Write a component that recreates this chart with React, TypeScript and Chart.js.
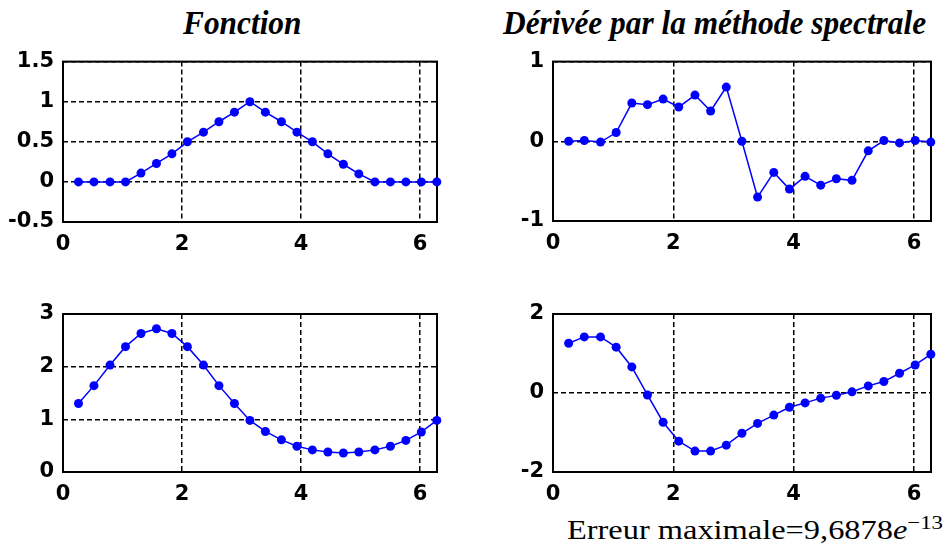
import React, { useEffect, useRef } from "react";
import { Chart, registerables } from "chart.js";

Chart.register(...registerables);

// ---- Data ----
const xValues = [0.26, 0.52, 0.79, 1.05, 1.31, 1.57, 1.83, 2.09, 2.36, 2.62, 2.88, 3.14, 3.40, 3.67, 3.93, 4.19, 4.45, 4.71, 4.97, 5.24, 5.50, 5.76, 6.02, 6.28];
const xTicks = [0, 2, 4, 6];
const xMax = 6.2832;

const fonction = [0, 0, 0, 0, 0.11, 0.23, 0.35, 0.5, 0.62, 0.75, 0.87, 1, 0.87, 0.75, 0.62, 0.5, 0.35, 0.22, 0.1, 0, 0, 0, 0, 0];
const fonctionTicks = [-0.5, 0, 0.5, 1, 1.5];

const deriveeSpectrale = [0, 0.01, -0.01, 0.11, 0.48, 0.46, 0.53, 0.43, 0.58, 0.38, 0.68, 0, -0.7, -0.39, -0.6, -0.44, -0.55, -0.47, -0.49, -0.12, 0.01, -0.02, 0.01, -0.01];
const deriveeSpectraleTicks = [-1, 0, 1];

const fonctionExp = [1.3, 1.64, 2.03, 2.38, 2.63, 2.72, 2.63, 2.38, 2.03, 1.64, 1.3, 0.98, 0.77, 0.61, 0.49, 0.42, 0.38, 0.36, 0.38, 0.42, 0.49, 0.6, 0.76, 0.98];
const fonctionExpTicks = [0, 1, 2, 3];

const deriveeExp = [1.26, 1.42, 1.42, 1.16, 0.66, -0.05, -0.74, -1.22, -1.47, -1.47, -1.32, -1.02, -0.77, -0.56, -0.36, -0.25, -0.13, -0.06, 0.03, 0.18, 0.29, 0.5, 0.71, 0.98];
const deriveeExpTicks = [-2, 0, 2];

const titleLeft = "Fonction";
const titleRight = "Dérivée par la méthode spectrale";
const captionText = "Erreur maximale=9,6878";

// ---- Chart helpers ----
const boxPlugin = {
  id: "boxPlugin",
  beforeDatasetsDraw(chart: any) {
    const { ctx, chartArea } = chart;
    ctx.save();
    ctx.strokeStyle = "#000";
    ctx.lineWidth = 2;
    ctx.setLineDash([]);
    ctx.strokeRect(chartArea.left, chartArea.top, chartArea.right - chartArea.left, chartArea.bottom - chartArea.top);
    ctx.restore();
  },
};

const tickFont = { family: "'DejaVu Sans', 'Liberation Sans', sans-serif", size: 21, weight: "bold" as const };

type PanelProps = {
  left: number;
  top: number;
  width: number;
  height: number;
  yAxisW: number;
  padTop: number;
  padRight: number;
  xAxisH: number;
  values: number[];
  yTicks: number[];
};

function Panel({ left, top, width, height, yAxisW, padTop, padRight, xAxisH, values, yTicks }: PanelProps) {
  const ref = useRef<HTMLCanvasElement>(null);
  useEffect(() => {
    const chart = new Chart(ref.current as HTMLCanvasElement, {
      type: "line",
      data: {
        datasets: [
          {
            data: xValues.map((x, i) => ({ x, y: values[i] })),
            borderColor: "#0000ff",
            backgroundColor: "#0000ff",
            borderWidth: 1.5,
            pointRadius: 4.5,
            pointBorderWidth: 0,
            pointBackgroundColor: "#0000ff",
            clip: false as any,
            tension: 0,
          },
        ],
      },
      options: {
        responsive: false,
        maintainAspectRatio: false,
        animation: false,
        layout: { padding: { left: 0, top: padTop, right: padRight, bottom: 0 } },
        plugins: { legend: { display: false }, tooltip: { enabled: false } },
        scales: {
          x: {
            type: "linear",
            min: 0,
            max: xMax,
            afterBuildTicks: (a: any) => {
              a.ticks = xTicks.map((v) => ({ value: v }));
            },
            afterFit: (a: any) => {
              a.height = xAxisH;
            },
            grid: { color: "#000", lineWidth: 1.5, drawTicks: false },
            border: { display: false, dash: [5, 3] },
            ticks: {
              padding: 10,
              color: "#000",
              font: tickFont,
              maxRotation: 0,
              autoSkip: false,
              callback: (v: any) => String(v),
            },
          },
          y: {
            type: "linear",
            min: yTicks[0],
            max: yTicks[yTicks.length - 1],
            afterBuildTicks: (a: any) => {
              a.ticks = yTicks.map((v) => ({ value: v }));
            },
            afterFit: (a: any) => {
              a.width = yAxisW;
            },
            grid: { color: "#000", lineWidth: 1.5, drawTicks: false },
            border: { display: false, dash: [5, 3] },
            ticks: {
              padding: 9,
              color: "#000",
              font: tickFont,
              autoSkip: false,
              callback: (v: any) => String(v),
            },
          },
        },
      },
      plugins: [boxPlugin],
    });
    return () => chart.destroy();
  }, []);
  return (
    <canvas
      ref={ref}
      width={width}
      height={height}
      style={{ position: "absolute", left, top, width, height }}
    />
  );
}

const titleStyle: React.CSSProperties = {
  position: "absolute",
  top: 7,
  font: "italic bold 33px 'Liberation Serif', 'Times New Roman', serif",
  lineHeight: "33px",
  whiteSpace: "nowrap",
  transform: "scaleX(0.95)",
  transformOrigin: "0 0",
};

export default function App() {
  return (
    <div
      style={{
        position: "fixed",
        left: 0,
        top: 0,
        width: 948,
        height: 547,
        background: "#fff",
        overflow: "hidden",
      }}
    >
      <div style={{ ...titleStyle, left: 183 }}>{titleLeft}</div>
      <div style={{ ...titleStyle, left: 503 }}>{titleRight}</div>
      <Panel left={0} top={40} width={460} height={220} yAxisW={63} padTop={21} padRight={23} xAxisH={38} values={fonction} yTicks={fonctionTicks} />
      <Panel left={480} top={40} width={468} height={220} yAxisW={73} padTop={21} padRight={17} xAxisH={39} values={deriveeSpectrale} yTicks={deriveeSpectraleTicks} />
      <Panel left={0} top={290} width={460} height={220} yAxisW={63} padTop={24} padRight={23} xAxisH={38} values={fonctionExp} yTicks={fonctionExpTicks} />
      <Panel left={480} top={290} width={468} height={220} yAxisW={73} padTop={24} padRight={17} xAxisH={38} values={deriveeExp} yTicks={deriveeExpTicks} />
      <div
        style={{
          position: "absolute",
          left: 567,
          top: 517,
          font: "27px 'Liberation Serif', 'Times New Roman', serif",
          lineHeight: "27px",
          whiteSpace: "nowrap",
          transform: "scaleX(1.2)",
          transformOrigin: "0 0",
        }}
      >
        {captionText}
        <span style={{ fontStyle: "italic" }}>e</span>
        <sup style={{ fontSize: 19, verticalAlign: "0.55em", lineHeight: 0 }}>−13</sup>
      </div>
    </div>
  );
}
